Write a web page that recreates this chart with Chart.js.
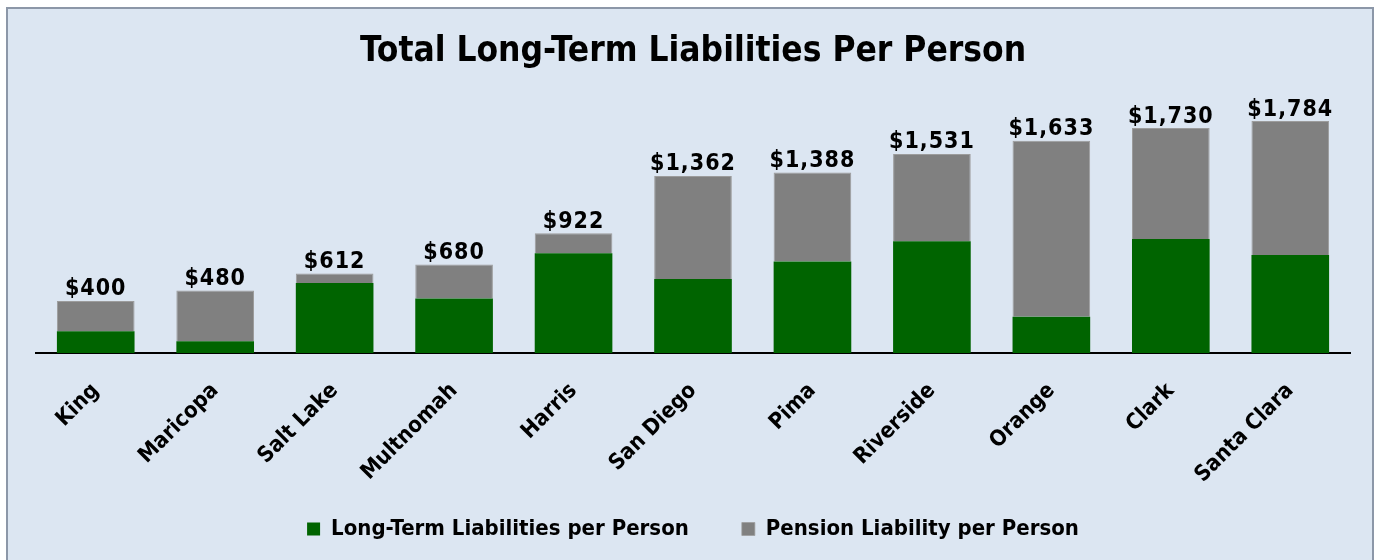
<!DOCTYPE html>
<html>
<head>
<meta charset="utf-8">
<script src="https://cdn.jsdelivr.net/npm/chart.js@4/dist/chart.umd.min.js"></script>
<style>
  body { margin: 0; background: #ffffff; }
  .frame {
    position: absolute; left: 6px; top: 7px;
    width: 1364px; height: 560px;
    border: 2px solid #8c97a8;
    background: #dce6f2;
  }
  canvas { display: block; }
</style>
</head>
<body>
<div class="frame"><canvas id="liabChart" width="1364" height="560"></canvas></div>
<script>
var counties = ["King", "Maricopa", "Salt Lake", "Multnomah", "Harris", "San Diego", "Pima", "Riverside", "Orange", "Clark", "Santa Clara"];
var longTerm = [168, 91, 539, 419, 768, 570, 704, 859, 279, 877, 753];
var pension = [232, 389, 73, 261, 154, 792, 684, 672, 1354, 853, 1031];

var FONT = '"DejaVu Sans Condensed", "DejaVu Sans", sans-serif';

// puts the stacked total above each bar
var totalLabels = {
    id: 'totalLabels',
    afterDatasetsDraw: function(chart) {
        var ctx = chart.ctx;
        var meta = chart.getDatasetMeta(1);
        ctx.save();
        ctx.font = 'bold 23px ' + FONT;
        ctx.fillStyle = '#000';
        ctx.textAlign = 'center';
        ctx.textBaseline = 'bottom';
        if ('letterSpacing' in ctx) ctx.letterSpacing = '1px';
        meta.data.forEach(function(bar, i) {
            var total = longTerm[i] + pension[i];
            ctx.fillText('$' + total.toLocaleString('en-US'), bar.x, bar.y);
        });
        ctx.restore();
    }
};

// the x axis is squeezed to a fixed height, so let its labels spill below it
var unclipTicks = {
    id: 'unclipTicks',
    afterLayout: function(chart) {
        var x = chart.scales.x;
        x.bottom = x.top + 160;
    }
};

var ctx = document.getElementById('liabChart').getContext('2d');
var chart = new Chart(ctx, {
    type: 'bar',
    data: {
        labels: counties,
        datasets: [{
            label: "Long-Term Liabilities per Person",
            backgroundColor: "#006400",
            data: longTerm
        }, {
            label: "Pension Liability per Person",
            backgroundColor: "#808080",
            borderColor: "#9c9c9c",
            borderWidth: {top: 1, left: 1, right: 1, bottom: 0},
            data: pension
        }]
    },
    plugins: [totalLabels, unclipTicks],
    options: {
        responsive: false,
        animation: false,
        layout: {padding: {left: 28, right: 22, top: 0, bottom: 19}},
        datasets: {bar: {categoryPercentage: 0.65, barPercentage: 1}},
        plugins: {
            title: {
                display: true,
                text: "Total Long-Term Liabilities Per Person",
                color: '#000',
                font: {family: FONT, size: 35, weight: 'bold'},
                padding: {top: 22, bottom: 20}
            },
            legend: {
                position: 'bottom',
                labels: {
                    color: '#000',
                    boxWidth: 13,
                    boxHeight: 13,
                    padding: 53,
                    font: {family: FONT, size: 22, weight: 'bold'}
                }
            },
            tooltip: {enabled: false}
        },
        scales: {
            x: {
                stacked: true,
                grid: {display: false},
                border: {display: true, color: '#000', width: 2},
                afterFit: function(scale) { scale.height = 112; },
                ticks: {
                    color: '#000',
                    minRotation: 45,
                    maxRotation: 45,
                    padding: 17,
                    font: {family: FONT, size: 22, weight: 'bold'}
                }
            },
            y: {
                stacked: true,
                display: false,
                min: 0,
                max: 2000
            }
        }
    }
});
</script>
</body>
</html>
